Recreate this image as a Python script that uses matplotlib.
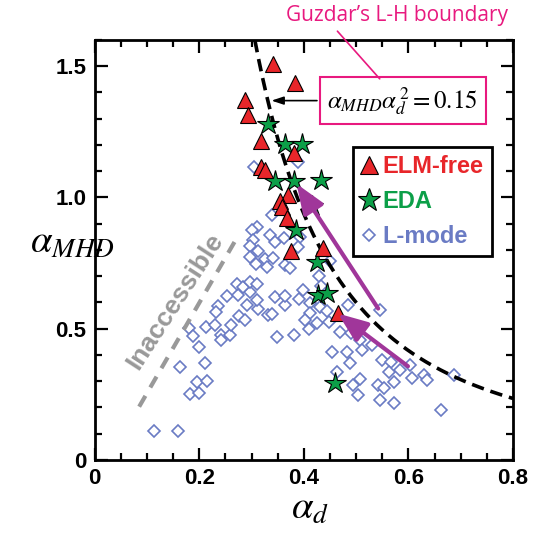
import matplotlib.pyplot as plt
import numpy as np
from matplotlib.lines import Line2D

plt.rcParams['mathtext.fontset'] = 'stix'
plt.rcParams['font.family'] = ['Liberation Sans', 'DejaVu Sans']
plt.rcParams['lines.scale_dashes'] = False

# ELM-free H-modes (triangles)
elm_x = [0.341, 0.383, 0.287, 0.293, 0.318, 0.381, 0.318, 0.325, 0.369, 0.354,
         0.358, 0.367, 0.375, 0.436, 0.465]
elm_y = [1.510, 1.437, 1.373, 1.316, 1.217, 1.171, 1.118, 1.103, 1.011, 0.985,
         0.962, 0.920, 0.795, 0.806, 0.559]

# EDA H-modes (stars)
eda_x = [0.331, 0.364, 0.396, 0.344, 0.381, 0.432, 0.415, 0.385, 0.425, 0.427,
         0.444, 0.459]
eda_y = [1.281, 1.205, 1.205, 1.061, 1.061, 1.065, 0.966, 0.878, 0.753, 0.627,
         0.635, 0.293]

# L-modes (diamonds)
lmode_x = [0.114, 0.159, 0.163, 0.211, 0.182, 0.199, 0.196, 0.215, 0.199, 0.180,
           0.188, 0.213, 0.230, 0.241, 0.241, 0.259, 0.260, 0.236, 0.232, 0.253,
           0.276, 0.274, 0.287, 0.291, 0.297, 0.312, 0.310, 0.331, 0.339, 0.344,
           0.348, 0.364, 0.364,
           0.304, 0.310, 0.301, 0.302, 0.297, 0.312, 0.297, 0.308, 0.325, 0.272,
           0.283, 0.297, 0.310,
           0.388, 0.339, 0.335, 0.344, 0.362, 0.392, 0.388, 0.341, 0.329, 0.364,
           0.373, 0.449, 0.428, 0.432, 0.390, 0.398, 0.411, 0.430, 0.444, 0.484,
           0.545, 0.411, 0.402, 0.425, 0.409, 0.448, 0.382, 0.469, 0.491, 0.507,
           0.512, 0.530, 0.453, 0.482, 0.488, 0.463, 0.507, 0.493, 0.503, 0.549,
           0.566, 0.562, 0.583, 0.602, 0.606, 0.629, 0.636, 0.688, 0.541, 0.554,
           0.573, 0.545, 0.573, 0.663]
lmode_y = [0.110, 0.110, 0.354, 0.369, 0.251, 0.255, 0.297, 0.300, 0.430, 0.502,
           0.471, 0.506, 0.513, 0.475, 0.456, 0.475, 0.513, 0.586, 0.563, 0.624,
           0.548, 0.627, 0.532, 0.589, 0.639, 0.574, 0.608, 0.551, 0.555, 0.620,
           0.468, 0.589, 0.624,
           1.118, 0.886, 0.875, 0.837, 0.814, 0.798, 0.772, 0.745, 0.764, 0.669,
           0.658, 0.677, 0.669,
           1.137, 0.932, 0.856, 0.829, 0.844, 0.848, 0.810, 0.768, 0.734, 0.741,
           0.730, 0.757, 0.700, 0.662, 0.612, 0.646, 0.597, 0.582, 0.567, 0.589,
           0.570, 0.559, 0.532, 0.521, 0.498, 0.525, 0.475, 0.487, 0.483, 0.456,
           0.418, 0.437, 0.411, 0.411, 0.369, 0.335, 0.308, 0.285, 0.247, 0.380,
           0.373, 0.335, 0.342, 0.361, 0.312, 0.323, 0.304, 0.323, 0.285, 0.274,
           0.297, 0.228, 0.217, 0.190]

guzdar_c = 0.15
x_ticks = [0, 0.2, 0.4, 0.6, 0.8]
x_tick_labels = ['0', '0.2', '0.4', '0.6', '0.8']
y_ticks = [0, 0.5, 1.0, 1.5]
y_tick_labels = ['0', '0.5', '1.0', '1.5']

# purple arrows: tail -> head
arrow_tails = [(0.542, 0.577), (0.599, 0.357)]
arrow_heads = [(0.386, 1.052), (0.465, 0.558)]

# "inaccessible" guide line
inacc_x = [0.085, 0.271]
inacc_y = [0.203, 0.843]

red = '#e8262a'
green = '#0c9f48'
blue = '#6a7bc4'
pink = '#e8197f'
purple = '#a0369a'

fig = plt.figure(figsize=(5.35, 5.33), dpi=100)
ax = fig.add_axes([0.177, 0.137, 0.782, 0.788])

# L-mode diamonds
ax.plot(lmode_x, lmode_y, 'D', ms=6, mfc='white', mec=blue, mew=1.2, zorder=2)

# Guzdar boundary
xc = np.linspace(np.sqrt(guzdar_c / 1.6), 0.8, 200)
ax.plot(xc, guzdar_c / xc**2, color='black', lw=2.6, linestyle=(0, (9, 5)), zorder=3)

ax.plot(inacc_x, inacc_y, color='#999999', lw=3, linestyle=(0, (9, 7)), zorder=2)

ax.plot(eda_x, eda_y, '*', ms=16, mfc=green, mec='black', mew=0.8, zorder=4)
ax.plot(elm_x, elm_y, '^', ms=12, mfc=red, mec='black', mew=0.8, zorder=5)

for (x0, y0), (x1, y1) in zip(arrow_tails, arrow_heads):
    ax.annotate('', xy=(x1, y1), xytext=(x0, y0),
                arrowprops=dict(arrowstyle='-|>,head_length=0.9,head_width=0.35',
                                color=purple, lw=3, mutation_scale=20,
                                shrinkA=0, shrinkB=0), zorder=6)

ax.text(0.153, 0.605, 'Inaccessible', rotation=57, color='#999999', fontsize=19,
        fontweight='bold', ha='center', va='center', zorder=2)

# formula box with arrow to the curve
ax.annotate('', xy=(0.338, 1.369), xytext=(0.425, 1.369),
            arrowprops=dict(arrowstyle='-|>,head_length=0.6,head_width=0.2',
                            color='black', lw=1.2, mutation_scale=12,
                            shrinkA=0, shrinkB=0))
ax.text(0.589, 1.369, r'$\alpha_{MHD}\alpha_d^{\,2} = 0.15$', fontsize=18,
        ha='center', va='center',
        bbox=dict(boxstyle='square,pad=0.3', fc='white', ec=pink, lw=1.5))

ax.annotate("Guzdar\u2019s L-H boundary", xy=(0.545, 1.452), xytext=(0.579, 1.692),
            textcoords='data', ha='center', va='center', color=pink,
            fontsize=15, family=['Open Sans', 'DejaVu Sans'],
            annotation_clip=False,
            arrowprops=dict(arrowstyle='-', color=pink, lw=1.2, relpos=(0.21, 0.0),
                            shrinkA=2, shrinkB=0))

handles = [
    Line2D([], [], marker='^', ls='none', ms=13, mfc=red, mec='black', mew=0.8),
    Line2D([], [], marker='*', ls='none', ms=17, mfc=green, mec='black', mew=0.8),
    Line2D([], [], marker='D', ls='none', ms=6.5, mfc='white', mec=blue, mew=1.2),
]
leg = ax.legend(handles, ['ELM-free', 'EDA', 'L-mode'], loc='upper left',
                bbox_to_anchor=(0.618, 0.745), frameon=True, fancybox=False,
                handlelength=0.6, handletextpad=0.3, labelspacing=0.5,
                borderpad=0.35, borderaxespad=0, framealpha=1,
                prop={'weight': 'bold', 'size': 17})
leg.get_frame().set_edgecolor('black')
leg.get_frame().set_linewidth(2)
for t, c in zip(leg.get_texts(), [red, green, blue]):
    t.set_color(c)

ax.set_xlim(0, 0.8)
ax.set_ylim(0, 1.6)
ax.set_xticks(x_ticks)
ax.set_xticklabels(x_tick_labels, fontweight='bold', fontsize=16)
ax.set_yticks(y_ticks)
ax.set_yticklabels(y_tick_labels, fontweight='bold', fontsize=16)
ax.set_xticks(np.arange(0, 0.81, 0.05), minor=True)
ax.set_yticks(np.arange(0, 1.61, 0.1), minor=True)
ax.tick_params(which='both', direction='in', top=True, right=True, width=1.6)
ax.tick_params(which='major', length=9, pad=6)
ax.tick_params(which='minor', length=5)
for s in ax.spines.values():
    s.set_linewidth(2)

fig.text(0.579, 0.045, r'$\alpha_d$', fontsize=28, ha='center', va='center')
fig.text(0.135, 0.545, r'$\alpha_{MHD}$', fontsize=28, ha='center', va='center')

fig.savefig('out.png', dpi=100)
